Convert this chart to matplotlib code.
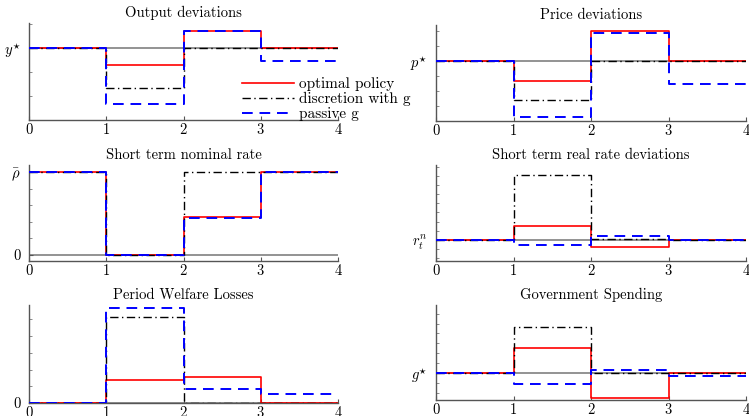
import numpy as np
import matplotlib
matplotlib.use("Agg")
import matplotlib.pyplot as plt

plt.rcParams["font.family"] = ["cmr10", "DejaVu Serif"]
plt.rcParams["mathtext.fontset"] = "cm"
plt.rcParams["axes.formatter.use_mathtext"] = True

periods = [0, 1, 2, 3, 4]
series_names = ["optimal policy", "discretion with g", "passive g"]

# Period-by-period paths (one value per period 0-1, 1-2, 2-3, 3-4)
output_opt = [0.0, -0.51, 0.50, 0.0]
output_disc = [0.0, -1.18, 0.0, 0.0]
output_pass = [0.0, -1.68, 0.50, -0.40]

price_opt = [0.0, -0.59, 0.90, 0.0]
price_disc = [0.0, -1.15, 0.0, 0.0]
price_pass = [0.0, -1.67, 0.83, -0.67]

nominal_opt = [1.0, 0.0, 0.46, 1.0]
nominal_disc = [1.0, 0.0, 1.0, 1.0]
nominal_pass = [1.0, 0.0, 0.445, 1.0]

real_opt = [0.0, 0.42, -0.21, 0.0]
real_disc = [0.0, 1.93, 0.03, 0.0]
real_pass = [0.0, -0.16, 0.11, 0.0]

welfare_opt = [0.0, 0.68, 0.79, 0.0]
welfare_disc = [0.0, 2.57, 0.0, 0.0]
welfare_pass = [0.0, 2.83, 0.42, 0.27]

gov_opt = [0.0, 0.77, -0.76, 0.0]
gov_disc = [0.0, 1.41, 0.0, 0.0]
gov_pass = [0.0, -0.34, 0.11, -0.08]

titles = ["Output deviations", "Price deviations",
          "Short term nominal rate", "Short term real rate deviations",
          "Period Welfare Losses", "Government Spending"]
ytick_values = [[0.0], [0.0], [0.0, 1.0], [0.0], [0.0], [0.0]]
ytick_labels = [[r"$y^{\star}$"], [r"$p^{\star}$"], ["0", r"$\bar{\rho}$"],
                [r"$r^{n}_{t}$"], ["0"], [r"$g^{\star}$"]]
reference_levels = [0.0, 0.0, 0.0, 0.0, 0.0, 0.0]

panels = [
    (output_opt, output_disc, output_pass),
    (price_opt, price_disc, price_pass),
    (nominal_opt, nominal_disc, nominal_pass),
    (real_opt, real_disc, real_pass),
    (welfare_opt, welfare_disc, welfare_pass),
    (gov_opt, gov_disc, gov_pass),
]

ylims = [(-2.15, 0.75), (-1.79, 1.08), (-0.073, 1.09),
         (-0.64, 2.23), (0.0, 2.93), (-0.81, 2.06)]
minor_steps = [0.72, 0.45, 0.2, 0.27, 0.5, 0.3]

W, H = 749, 416
fig = plt.figure(figsize=(W / 100, H / 100), dpi=100)

# axes boxes in pixels: (left, top, right, bottom)
boxes = [(29, 23, 338, 120), (436, 25, 746, 121),
         (29, 165, 338, 261), (436, 165, 746, 261),
         (29, 305, 338, 403), (436, 305, 746, 400)]

styles = [dict(color="#ff0000", ls="-", lw=1.2),
          dict(color="black", ls=(0, (6, 2.5, 1, 2.5)), lw=1.0),
          dict(color="#0000ff", ls=(0, (5.5, 3.5)), lw=1.4)]

for i, (l, t, r, b) in enumerate(boxes):
    ax = fig.add_axes([l / W, 1 - b / H, (r - l) / W, (b - t) / H])
    ax.axhline(reference_levels[i], color="#808080", lw=1.2, zorder=1)
    handles = []
    for vals, st in zip(panels[i], styles):
        yy = list(vals) + [vals[-1]]
        h, = ax.step(periods, yy, where="post", zorder=3, **st)
        handles.append(h)
    ax.set_xlim(periods[0], periods[-1])
    ax.set_ylim(*ylims[i])
    ax.set_xticks(periods)
    ax.set_yticks(ytick_values[i])
    ax.set_yticklabels(ytick_labels[i])
    lo, hi = ylims[i]
    base = ytick_values[i][0]
    step = minor_steps[i]
    minors = np.concatenate([np.arange(base, lo - 1e-9, -step),
                             np.arange(base, hi + 1e-9, step)])
    ax.set_yticks(minors, minor=True)
    ax.set_title(titles[i], fontsize=10.5, pad=4)
    for s in ["top", "right"]:
        ax.spines[s].set_visible(False)
    for s in ["left", "bottom"]:
        ax.spines[s].set_color("#555555")
        ax.spines[s].set_linewidth(1.0)
    ax.tick_params(axis="both", which="major", direction="in", length=3,
                   color="#555555", labelsize=10.5, pad=1.5)
    ax.tick_params(axis="y", which="major", pad=6, labelsize=10.5)
    ax.tick_params(axis="y", which="minor", direction="in", length=2,
                   color="#777777")
    ax.tick_params(axis="x", which="minor", bottom=False)
    if i == 0:
        legend_handles = handles

fig.legend(legend_handles, series_names, loc="upper left",
           bbox_to_anchor=(233 / W, 1 - 68 / H), frameon=False,
           fontsize=11, handlelength=3.4, handletextpad=0.3,
           labelspacing=0.05, borderpad=0.1)

fig.savefig("out.png", dpi=100)
